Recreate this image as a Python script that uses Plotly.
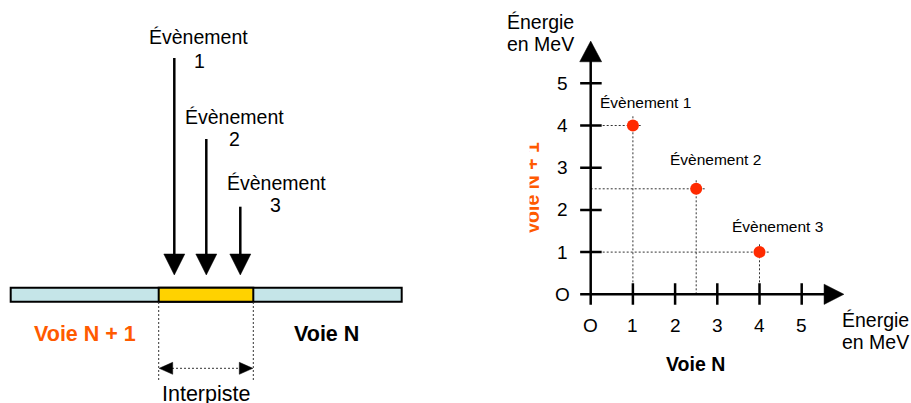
import plotly.graph_objects as go

# ---------------- data ----------------
events = ["Évènement 1", "Évènement 2", "Évènement 3"]
voie_n = [1, 2.5, 4]          # energy on channel N (MeV)
voie_n1 = [4, 2.5, 1]         # energy on channel N+1 (MeV)
tick_vals = [0, 1, 2, 3, 4, 5]
tick_text = ["O", "1", "2", "3", "4", "5"]

FONT = "Arial, Liberation Sans, sans-serif"
RED = "#FF2A00"
ORANGE = "#FF5A00"
W, H = 911, 403
OFF = 0  # body margin removed by post_script

fig = go.Figure()

# ---------- right chart: scatter on x2/y2 ----------
ux = 42.2
x0p, y0p = 590.7 - OFF, 294.3 - OFF
xr = [-1.0, 6.25]
yr = [-1.0, 6.25]
xd = [(x0p + xr[0] * ux) / W, (x0p + xr[1] * ux) / W]
yd = [(H - y0p + yr[0] * ux) / H, (H - y0p + yr[1] * ux) / H]

ext = 0.22
for xv, yv in zip(voie_n, voie_n1):
    fig.add_trace(go.Scatter(x=[0, xv + ext], y=[yv, yv], mode="lines",
                             line=dict(color="#333333", width=1, dash="2px,2px"),
                             xaxis="x2", yaxis="y2", hoverinfo="skip", showlegend=False))
    fig.add_trace(go.Scatter(x=[xv, xv], y=[0, yv + ext], mode="lines",
                             line=dict(color="#333333", width=1, dash="2px,2px"),
                             xaxis="x2", yaxis="y2", hoverinfo="skip", showlegend=False))

fig.add_trace(go.Scatter(x=voie_n, y=voie_n1, mode="markers", text=events,
                         marker=dict(color=RED, size=12, line=dict(width=0)),
                         xaxis="x2", yaxis="y2", showlegend=False))

shapes = []
shapes.append(dict(type="line", xref="x2", yref="y2", x0=-0.25, y0=0, x1=5.6, y1=0,
                   line=dict(color="black", width=2.5)))
shapes.append(dict(type="line", xref="x2", yref="y2", x0=0, y0=-0.25, x1=0, y1=5.6,
                   line=dict(color="black", width=2.5)))
shapes.append(dict(type="path", xref="x2", yref="y2",
                   path="M 5.53 0.24 L 6.0 0 L 5.53 -0.24 Z",
                   fillcolor="black", line=dict(color="black", width=0.5)))
shapes.append(dict(type="path", xref="x2", yref="y2",
                   path="M -0.26 5.51 L 0 6.0 L 0.26 5.51 Z",
                   fillcolor="black", line=dict(color="black", width=0.5)))
for t in tick_vals[1:]:
    shapes.append(dict(type="line", xref="x2", yref="y2", x0=t, y0=-0.25, x1=t, y1=0.26,
                       line=dict(color="black", width=2.5)))
    shapes.append(dict(type="line", xref="x2", yref="y2", x0=-0.25, y0=t, x1=0.26, y1=t,
                       line=dict(color="black", width=2.5)))

annotations = []
for t, s in zip(tick_vals, tick_text):
    annotations.append(dict(xref="x2", yref="y2", x=t, y=-0.75, text=s, showarrow=False,
                            font=dict(family=FONT, size=19, color="black"),
                            xanchor="center", yanchor="middle"))
    annotations.append(dict(xref="x2", yref="y2", x=-0.66, y=t, text=s, showarrow=False,
                            font=dict(family=FONT, size=19, color="black"),
                            xanchor="center", yanchor="middle"))

label_shift = [(-35, 23), (-28, 29), (-29.5, 26)]
for ev, xv, yv, (dx, dy) in zip(events, voie_n, voie_n1, label_shift):
    annotations.append(dict(xref="x2", yref="y2", x=xv, y=yv, text=ev, showarrow=False,
                            xanchor="left", yanchor="middle", xshift=dx, yshift=dy,
                            font=dict(family=FONT, size=15.5, color="black")))


def px(x):
    return x - OFF


def annot(x, y, text, size, color="black", **kw):
    d = dict(xref="x", yref="y", x=px(x), y=px(y), text=text, showarrow=False,
             xanchor=kw.pop("xanchor", "center"), yanchor=kw.pop("yanchor", "middle"),
             font=dict(family=FONT, size=size, color=color))
    d.update(kw)
    annotations.append(d)


annot(505, 21.5, "Énergie", 19.5, xanchor="left")
annot(505, 43.5, "en MeV", 19.5, xanchor="left")
annot(840, 319.5, "Énergie", 19.5, xanchor="left")
annot(840, 342, "en MeV", 19.5, xanchor="left")
annot(695, 364, "<b>Voie N</b>", 19.5)
annot(531, 188.5, "<b>Voie N + 1</b>", 19.5, color=ORANGE, textangle=-90)
# the reference clips the left edge of the rotated label
annot(523.5, 188.5, " ", 2, width=9.5, height=110, bgcolor="white", borderpad=0)

# ---------- left diagram (pixel coordinates on x/y) ----------
def rect(x0, x1, y0, y1, fill):
    shapes.append(dict(type="rect", xref="x", yref="y", x0=px(x0), x1=px(x1),
                       y0=px(y0), y1=px(y1), fillcolor=fill,
                       line=dict(color="black", width=2)))


def line(x0, y0, x1, y1, width=2.5, dash="solid", color="black"):
    shapes.append(dict(type="line", xref="x", yref="y", x0=px(x0), x1=px(x1),
                       y0=px(y0), y1=px(y1), line=dict(color=color, width=width, dash=dash)))


def tri(pts):
    p = " L ".join(f"{px(a)} {px(b)}" for a, b in pts)
    shapes.append(dict(type="path", xref="x", yref="y", path=f"M {p} Z",
                       fillcolor="black", line=dict(color="black", width=0.5)))


rect(10.7, 401.7, 287.7, 301.7, "#C5E5E8")
rect(158.7, 253.3, 287.7, 301.7, "#FFD200")

arrows = [(174.3, 58), (206.3, 139), (240.3, 206.7)]
for ax, top in arrows:
    line(ax, top, ax, 258)
    tri([(ax - 10.5, 254), (ax + 10.5, 254), (ax, 275)])

for vx in (158.7, 253.3):
    line(vx, 302, vx, 380, width=1, dash="2px,2px", color="#333333")
line(172, 368.3, 240, 368.3, width=1, dash="2px,2px", color="#333333")
tri([(159.2, 368.3), (172.7, 362.3), (172.7, 374.3)])
tri([(252.8, 368.3), (239.3, 362.3), (239.3, 374.3)])

left_labels = [(198.5, 36.7, 199, 60.7, "1"), (234.5, 116.7, 234, 139, "2"),
               (276, 182.7, 275.3, 205, "3")]
for lx, ly, nx, ny, num in left_labels:
    annot(lx, ly, "Évènement", 19.5)
    annot(nx, ny, num, 19.5)

annot(85, 334, "<b>Voie N + 1</b>", 21.5, color=ORANGE)
annot(326.7, 334, "<b>Voie N</b>", 21.5)
annot(206, 393.5, "Interpiste", 21.5)

fig.update_layout(
    width=W, height=H,
    margin=dict(l=0, r=0, t=0, b=0),
    paper_bgcolor="white", plot_bgcolor="rgba(0,0,0,0)",
    xaxis=dict(range=[0, W], domain=[0, 1], visible=False, fixedrange=True),
    yaxis=dict(range=[H, 0], domain=[0, 1], visible=False, fixedrange=True),
    xaxis2=dict(range=xr, domain=xd, visible=False, anchor="y2"),
    yaxis2=dict(range=yr, domain=yd, visible=False, anchor="x2"),
    shapes=shapes,
    annotations=annotations,
    showlegend=False,
)

fig.write_html("out.html", config={"displayModeBar": False},
               default_width="911px", default_height="403px",
               post_script="document.body.style.margin='0px';"
                           "document.body.style.overflow='hidden';")
